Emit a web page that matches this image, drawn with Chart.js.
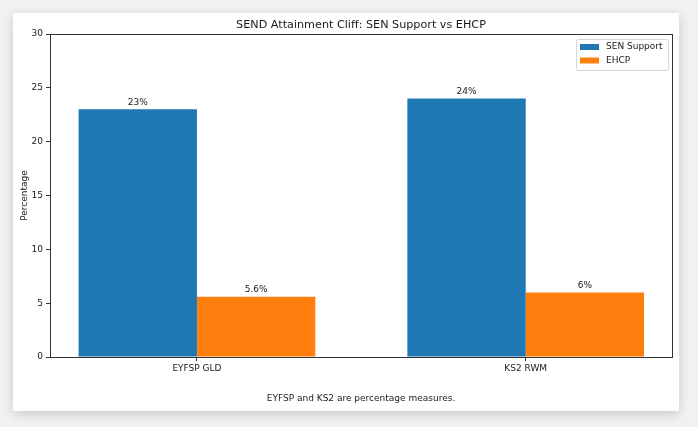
<!DOCTYPE html>
<html>
<head>
<meta charset="utf-8">
<script src="https://cdn.jsdelivr.net/npm/chart.js@4.4.1/dist/chart.umd.min.js"></script>
<style>
  html, body { margin: 0; padding: 0; }
  body { width: 698px; height: 427px; background: #f1f1f1; position: relative; overflow: hidden; font-family: "DejaVu Sans", sans-serif; }
  #card { position: absolute; left: 13px; top: 13px; width: 666px; height: 398px; background: #fff; box-shadow: 0 3px 10px rgba(0,0,0,0.16); }
  #card canvas { display: block; }
</style>
</head>
<body>
<div id="card"><canvas id="cliffChart" width="666" height="398"></canvas></div>
<script>
// data
const categories = ['EYFSP GLD', 'KS2 RWM'];
const seriesNames = ['SEN Support', 'EHCP'];
const senSupport = [23, 24];
const ehcp = [5.6, 6];
const yTicks = [0, 5, 10, 15, 20, 25, 30];
const chartTitle = 'SEND Attainment Cliff: SEN Support vs EHCP';
const yTitle = 'Percentage';
const footNote = 'EYFSP and KS2 are percentage measures.';

const FONT = '"DejaVu Sans", sans-serif';
const INK = '#1a1a1a';

const toPoints = arr => arr.map((v, i) => ({ x: i, y: v }));

// frame, titles, bar labels, legend (matplotlib-ish)
const decor = {
    id: 'decor',
    afterDatasetsDraw(chart) {
        const ctx = chart.ctx;
        const a = chart.chartArea;
        ctx.save();
        // axes frame
        ctx.strokeStyle = '#333';
        ctx.lineWidth = 1;
        ctx.strokeRect(Math.round(a.left) + 0.5, Math.round(a.top) + 0.5, Math.round(a.right - a.left), Math.round(a.bottom - a.top));

        ctx.fillStyle = INK;
        ctx.textAlign = 'center';
        ctx.textBaseline = 'middle';

        // value labels above bars
        ctx.font = '9px ' + FONT;
        chart.data.datasets.forEach((ds, di) => {
            chart.getDatasetMeta(di).data.forEach((bar, i) => {
                ctx.fillText(ds.data[i].y + '%', bar.x, bar.y - 7);
            });
        });

        // title
        ctx.font = '11.2px ' + FONT;
        ctx.fillText(chartTitle, (a.left + a.right) / 2, 12);

        // footnote
        ctx.font = '9px ' + FONT;
        ctx.fillText(footNote, (a.left + a.right) / 2, 386);

        // y axis title
        ctx.save();
        ctx.translate(11.5, (a.top + a.bottom) / 2);
        ctx.rotate(-Math.PI / 2);
        ctx.fillText(yTitle, 0, 0);
        ctx.restore();

        // legend
        const lx = 563, ly = 26, lw = 92, lh = 31;
        ctx.fillStyle = 'rgba(255,255,255,0.8)';
        ctx.strokeStyle = '#d6d6d6';
        ctx.beginPath();
        ctx.roundRect(lx + 0.5, ly + 0.5, lw, lh, 2);
        ctx.fill();
        ctx.stroke();
        ctx.textAlign = 'left';
        ctx.font = '9px ' + FONT;
        chart.data.datasets.forEach((ds, di) => {
            const ry = ly + 8 + di * 13.5;
            ctx.fillStyle = ds.backgroundColor;
            ctx.fillRect(lx + 4, ry - 3, 19, 6);
            ctx.fillStyle = INK;
            ctx.fillText(ds.label, lx + 30, ry);
        });
        ctx.restore();
    }
};

new Chart(document.getElementById('cliffChart'), {
    type: 'bar',
    data: {
        datasets: [
            { label: seriesNames[0], data: toPoints(senSupport), backgroundColor: '#1f77b4' },
            { label: seriesNames[1], data: toPoints(ehcp), backgroundColor: '#ff7f0e' }
        ]
    },
    options: {
        responsive: false,
        animation: false,
        devicePixelRatio: 1,
        categoryPercentage: 0.72,
        barPercentage: 1.0,
        layout: { padding: { left: 0, top: 21, right: 7, bottom: 0 } },
        plugins: { legend: { display: false }, tooltip: { enabled: false } },
        scales: {
            x: {
                type: 'linear',
                offset: false,
                min: -0.447,
                max: 1.445,
                afterBuildTicks: s => { s.ticks = categories.map((c, i) => ({ value: i })); },
                afterFit: s => { s.height = 54; },
                ticks: {
                    callback: v => categories[v],
                    font: { family: FONT, size: 9 },
                    color: INK,
                    padding: 2,
                    maxRotation: 0
                },
                grid: { offset: false, drawOnChartArea: false, tickLength: 4, tickColor: '#333' },
                border: { color: '#333' }
            },
            y: {
                min: 0,
                max: 30,
                afterBuildTicks: s => { s.ticks = yTicks.map(v => ({ value: v })); },
                afterFit: s => { s.width = 37; },
                ticks: {
                    font: { family: FONT, size: 9 },
                    color: INK,
                    padding: 3
                },
                grid: { drawOnChartArea: false, tickLength: 4, tickColor: '#333' },
                border: { color: '#333' }
            }
        }
    },
    plugins: [decor]
});
</script>
</body>
</html>
